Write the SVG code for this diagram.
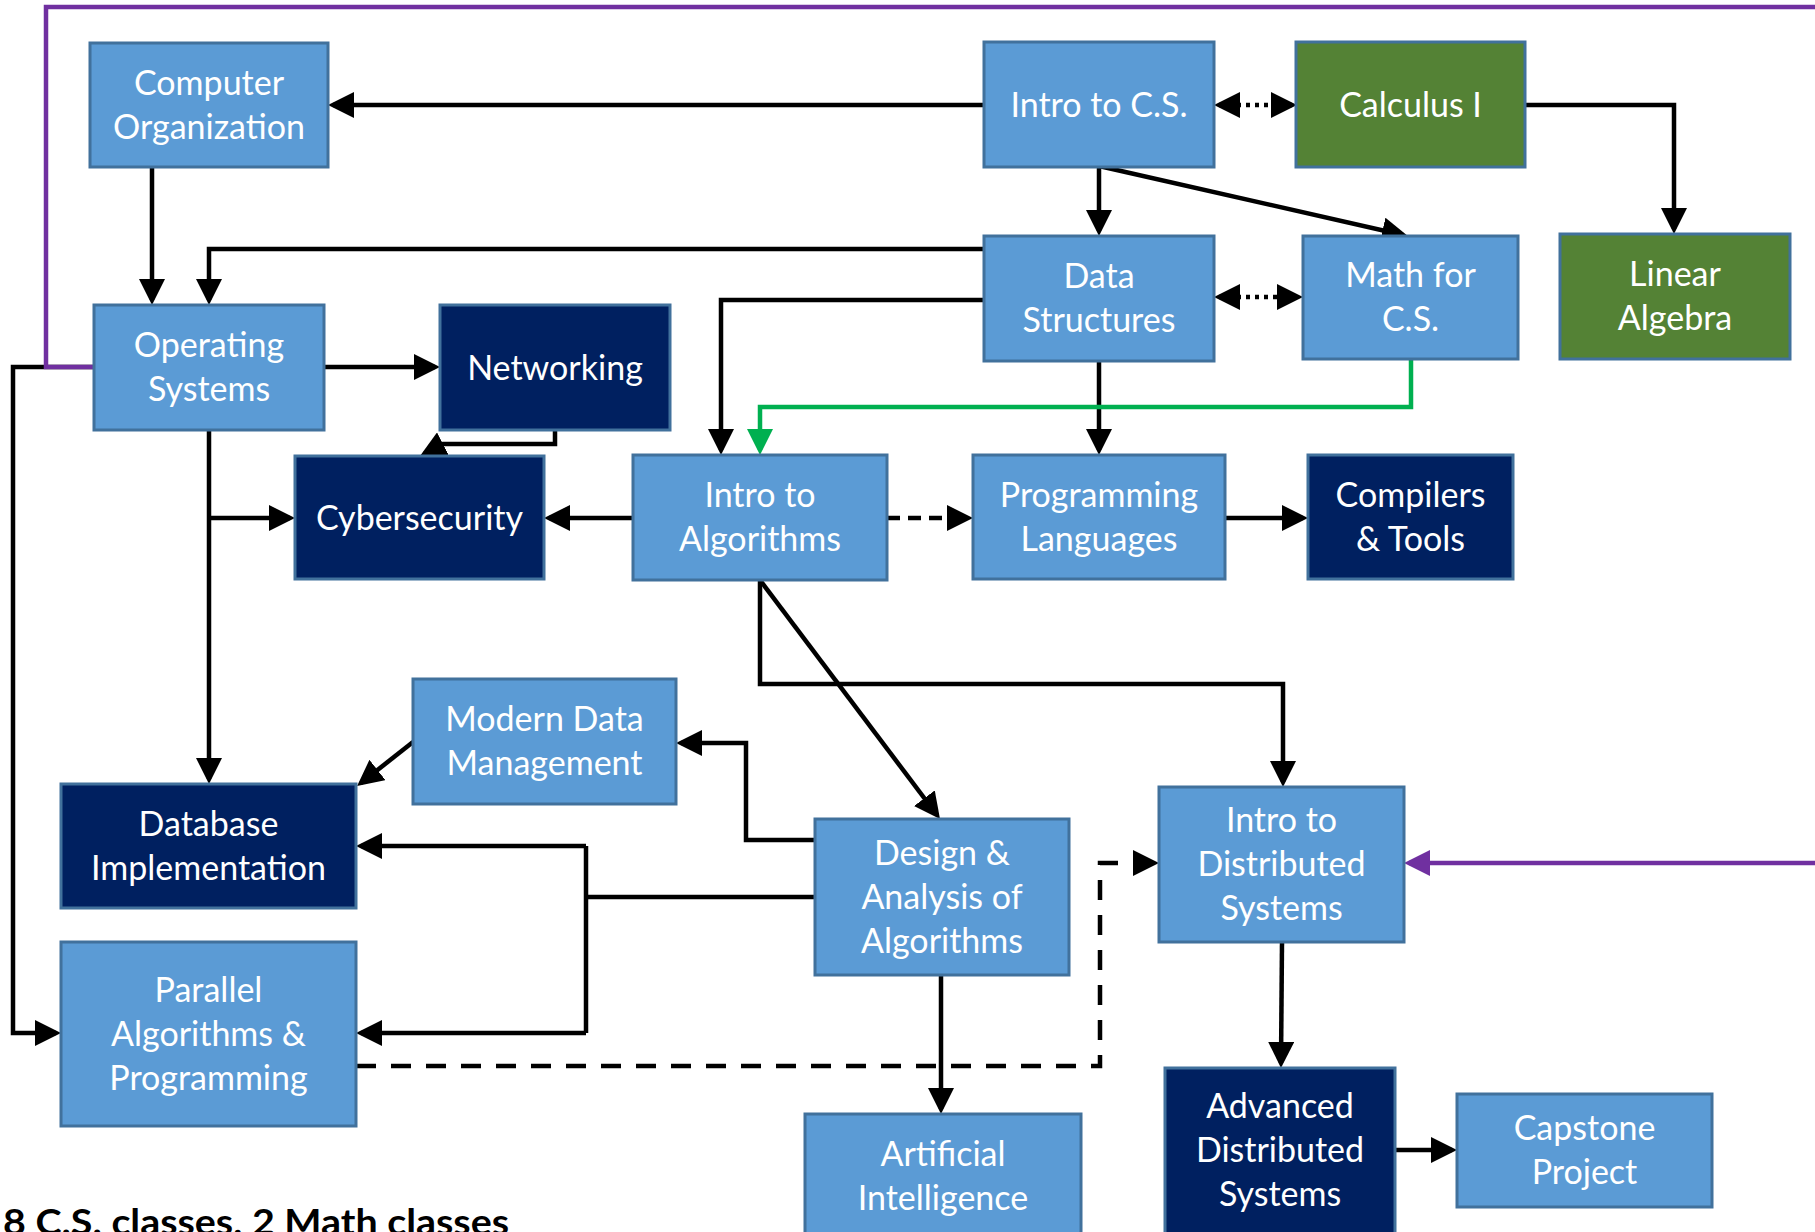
<svg xmlns="http://www.w3.org/2000/svg" width="1815" height="1232" viewBox="0 0 1815 1232">
<style>
.n rect{stroke:#41719C;stroke-width:3}
.lb rect{fill:#5B9BD5}
.nv rect{fill:#002060}
.gr rect{fill:#548235}
.n text{font-family:Lato,"Open Sans","Liberation Sans",sans-serif;font-size:34px;fill:#FFFFFF;text-anchor:middle}
.c path{fill:none;stroke:#000;stroke-width:4.5}
.c .arr{marker-end:url(#ah)}
.c .dash{stroke-dasharray:20 15}
.c .dash2{stroke-dasharray:13 8}
.c .dot{stroke-dasharray:4 5;marker-start:url(#ahs);marker-end:url(#ah)}
.c .pur{stroke:#7030A0;marker-end:url(#ahp)}
.c .grn{stroke:#00B050;marker-end:url(#ahg)}
.cap{font-family:Lato,"Liberation Sans",sans-serif;font-weight:bold;font-size:36px;fill:#000}
</style>
<defs>
<marker id="ah" markerUnits="userSpaceOnUse" markerWidth="26" markerHeight="26" refX="21" refY="13" orient="auto"><path d="M0,0 L26,13 L0,26 z" fill="#000"/></marker>
<marker id="ahs" markerUnits="userSpaceOnUse" markerWidth="26" markerHeight="26" refX="21" refY="13" orient="auto-start-reverse"><path d="M0,0 L26,13 L0,26 z" fill="#000"/></marker>
<marker id="ahp" markerUnits="userSpaceOnUse" markerWidth="26" markerHeight="26" refX="21" refY="13" orient="auto"><path d="M0,0 L26,13 L0,26 z" fill="#7030A0"/></marker>
<marker id="ahg" markerUnits="userSpaceOnUse" markerWidth="26" markerHeight="26" refX="21" refY="13" orient="auto"><path d="M0,0 L26,13 L0,26 z" fill="#00B050"/></marker>
</defs>
<rect width="1815" height="1232" fill="#FFFFFF"/>

<g id="connectors" class="c">
<path class="arr" d="M984,105 H333"/>
<path class="arr" d="M1525,105 H1674 V229"/>
<path class="arr" d="M1099,167 V231"/>
<path class="arr" d="M1099,166 L1403,235"/>
<path class="arr" d="M984,249 H209 V300"/>
<path class="arr" d="M152,167 V300"/>
<path class="arr" d="M984,300 H721 V450"/>
<path class="arr" d="M1099,361 V450"/>
<path class="arr" d="M324,367 H435"/>
<path class="arr" d="M555,430 V444 H443 L424.4,453.7"/>
<path class="arr" d="M209,430 V779"/>
<path class="arr" d="M209,518 H290"/>
<path class="arr" d="M633,518 H549"/>
<path class="arr dash2" d="M887,518 H968"/>
<path class="arr" d="M1225,518 H1303"/>
<path class="arr" d="M760,580 L937,815"/>
<path class="arr" d="M760,580 V684 H1283 V782"/>
<path class="arr" d="M815,840 H746 V743 H681"/>
<path class="arr" d="M413,742 L361,783"/>
<path d="M815,897 H586 M586,846 V1033"/>
<path class="arr" d="M586,846 H361"/>
<path class="arr" d="M586,1033 H361"/>
<path class="arr" d="M94,367 H13 V1033 H56"/>
<path class="arr dash" d="M356,1066 H1100 V863 H1154"/>
<path class="arr" d="M941,975 V1109"/>
<path class="arr" d="M1282,942 L1281,1063"/>
<path class="arr" d="M1395,1150 H1452"/>
<path class="dot" d="M1219,105 H1292"/>
<path class="dot" d="M1219,297 H1298"/>
<path class="grn" d="M1411,359 V407 H760 V450"/>
<path class="pur" d="M94,367 H46 V7 H1830 V863 H1409"/>
</g>

<g id="computer-organization" class="n lb"><rect x="90" y="43" width="238" height="124"/><text x="209" y="95">Computer</text><text x="209" y="139">Organization</text></g>
<g id="intro-cs" class="n lb"><rect x="984" y="42" width="230" height="125"/><text x="1099" y="117">Intro to C.S.</text></g>
<g id="calculus-1" class="n gr"><rect x="1296" y="42" width="229" height="125"/><text x="1410.5" y="117">Calculus I</text></g>
<g id="data-structures" class="n lb"><rect x="984" y="236" width="230" height="125"/><text x="1099" y="288">Data</text><text x="1099" y="332">Structures</text></g>
<g id="math-for-cs" class="n lb"><rect x="1303" y="236" width="215" height="123"/><text x="1410.5" y="287">Math for</text><text x="1410.5" y="331">C.S.</text></g>
<g id="linear-algebra" class="n gr"><rect x="1560" y="234" width="230" height="125"/><text x="1675" y="286">Linear</text><text x="1675" y="330">Algebra</text></g>
<g id="operating-systems" class="n lb"><rect x="94" y="305" width="230" height="125"/><text x="209" y="357">Operating</text><text x="209" y="401">Systems</text></g>
<g id="networking" class="n nv"><rect x="440" y="305" width="230" height="125"/><text x="555" y="380">Networking</text></g>
<g id="cybersecurity" class="n nv"><rect x="295" y="456" width="249" height="123"/><text x="419.5" y="530">Cybersecurity</text></g>
<g id="intro-algorithms" class="n lb"><rect x="633" y="455" width="254" height="125"/><text x="760" y="507">Intro to</text><text x="760" y="551">Algorithms</text></g>
<g id="programming-languages" class="n lb"><rect x="973" y="455" width="252" height="124"/><text x="1099" y="507">Programming</text><text x="1099" y="551">Languages</text></g>
<g id="compilers-tools" class="n nv"><rect x="1308" y="455" width="205" height="124"/><text x="1410.5" y="507">Compilers</text><text x="1410.5" y="551">&amp; Tools</text></g>
<g id="modern-data-management" class="n lb"><rect x="413" y="679" width="263" height="125"/><text x="544.5" y="731">Modern Data</text><text x="544.5" y="775">Management</text></g>
<g id="database-implementation" class="n nv"><rect x="61" y="784" width="295" height="124"/><text x="208.5" y="836">Database</text><text x="208.5" y="880">Implementation</text></g>
<g id="parallel-algorithms" class="n lb"><rect x="61" y="942" width="295" height="184"/><text x="208.5" y="1002">Parallel</text><text x="208.5" y="1046">Algorithms &amp;</text><text x="208.5" y="1090">Programming</text></g>
<g id="design-analysis-algorithms" class="n lb"><rect x="815" y="819" width="254" height="156"/><text x="942" y="865">Design &amp;</text><text x="942" y="909">Analysis of</text><text x="942" y="953">Algorithms</text></g>
<g id="artificial-intelligence" class="n lb"><rect x="805" y="1114" width="276" height="130"/><text x="943" y="1166">Artificial</text><text x="943" y="1210">Intelligence</text></g>
<g id="intro-distributed-systems" class="n lb"><rect x="1159" y="787" width="245" height="155"/><text x="1281.5" y="832">Intro to</text><text x="1281.5" y="876">Distributed</text><text x="1281.5" y="920">Systems</text></g>
<g id="advanced-distributed-systems" class="n nv"><rect x="1165" y="1068" width="230" height="172"/><text x="1280" y="1118">Advanced</text><text x="1280" y="1162">Distributed</text><text x="1280" y="1206">Systems</text></g>
<g id="capstone-project" class="n lb"><rect x="1457" y="1094" width="255" height="113"/><text x="1584.5" y="1140">Capstone</text><text x="1584.5" y="1184">Project</text></g>

<text class="cap" x="3" y="1235" textLength="506" lengthAdjust="spacingAndGlyphs">8 C.S. classes, 2 Math classes</text>
</svg>
